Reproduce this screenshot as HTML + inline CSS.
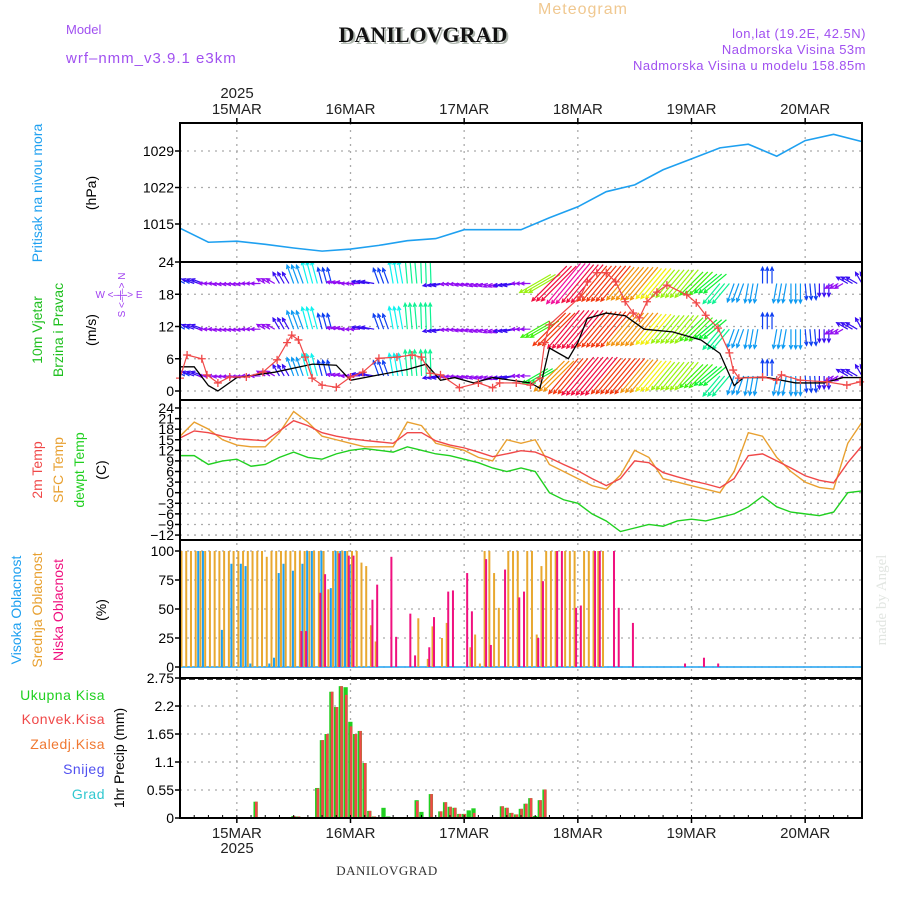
<!DOCTYPE html>
<html><head><meta charset="utf-8"><title>Meteogram DANILOVGRAD</title>
<style>
html,body{margin:0;padding:0;background:#fff;}
svg{display:block;font-family:"Liberation Sans",sans-serif;}
</style></head>
<body>
<svg id="chart" width="900" height="900" viewBox="0 0 900 900" xmlns="http://www.w3.org/2000/svg">
<defs>
<clipPath id="clipW"><rect x="180" y="262" width="682" height="138"/></clipPath>
</defs>
<text x="583" y="14" font-size="16" fill="#f0c890" text-anchor="middle" letter-spacing="1">Meteogram</text>
<text x="66" y="34" font-size="13" fill="#a050f0">Model</text>
<text x="66" y="63" font-size="15" fill="#a050f0" letter-spacing="1">wrf–nmm_v3.9.1 e3km</text>
<text x="425" y="44" font-size="22" font-weight="bold" fill="#b0b8b0" text-anchor="middle" font-family="Liberation Serif, serif">DANILOVGRAD</text>
<text x="423" y="42" font-size="22" font-weight="bold" fill="#111" text-anchor="middle" font-family="Liberation Serif, serif">DANILOVGRAD</text>
<text x="866" y="38" font-size="13" fill="#a050f0" text-anchor="end" letter-spacing="0.5">lon,lat (19.2E, 42.5N)</text>
<text x="866" y="54" font-size="13" fill="#a050f0" text-anchor="end" letter-spacing="0.5">Nadmorska Visina 53m</text>
<text x="866" y="70" font-size="13" fill="#a050f0" text-anchor="end" letter-spacing="0.5">Nadmorska Visina u modelu 158.85m</text>
<text transform="translate(42,193) rotate(-90)" font-size="14" fill="#1ea0f0" text-anchor="middle">Pritisak na nivou mora</text>
<text transform="translate(96,193) rotate(-90)" font-size="14" fill="#000" text-anchor="middle">(hPa)</text>
<text transform="translate(42,330) rotate(-90)" font-size="14" fill="#20c020" text-anchor="middle">10m Vjetar</text>
<text transform="translate(63,330) rotate(-90)" font-size="14" fill="#20c020" text-anchor="middle">Brzina i Pravac</text>
<text transform="translate(96,330) rotate(-90)" font-size="14" fill="#000" text-anchor="middle">(m/s)</text>
<text x="119" y="298" font-size="10" fill="#a040f0" text-anchor="middle">W  &lt;–|–&gt;  E</text>
<text transform="translate(125,295) rotate(-90)" font-size="10" fill="#a040f0" text-anchor="middle">S &lt;–|–&gt; N</text>
<text transform="translate(42,470) rotate(-90)" font-size="14" fill="#f04848" text-anchor="middle">2m Temp</text>
<text transform="translate(63,470) rotate(-90)" font-size="14" fill="#e8a030" text-anchor="middle">SFC Temp</text>
<text transform="translate(84,470) rotate(-90)" font-size="14" fill="#20d020" text-anchor="middle">dewpt Temp</text>
<text transform="translate(106,470) rotate(-90)" font-size="14" fill="#000" text-anchor="middle">(C)</text>
<text transform="translate(21,610) rotate(-90)" font-size="14" fill="#1ea0f0" text-anchor="middle">Visoka Oblacnost</text>
<text transform="translate(42,610) rotate(-90)" font-size="14" fill="#e8a030" text-anchor="middle">Srednja Oblacnost</text>
<text transform="translate(63,610) rotate(-90)" font-size="14" fill="#f0107f" text-anchor="middle">Niska Oblacnost</text>
<text transform="translate(106,610) rotate(-90)" font-size="14" fill="#000" text-anchor="middle">(%)</text>
<text x="105" y="700" font-size="14" fill="#20d020" text-anchor="end" letter-spacing="0.5">Ukupna  Kisa</text>
<text x="105" y="724" font-size="14" fill="#f04848" text-anchor="end" letter-spacing="0.5">Konvek.Kisa</text>
<text x="105" y="749" font-size="14" fill="#f07830" text-anchor="end" letter-spacing="0.5">Zaledj.Kisa</text>
<text x="105" y="774" font-size="14" fill="#5050f0" text-anchor="end" letter-spacing="0.5">Snijeg</text>
<text x="105" y="799" font-size="14" fill="#30c8d0" text-anchor="end" letter-spacing="0.5">Grad</text>
<text transform="translate(124,758) rotate(-90)" font-size="14" fill="#000" text-anchor="middle">1hr Precip (mm)</text>
<text transform="translate(886,600) rotate(-90)" font-size="15" fill="#e2e6e2" text-anchor="middle" font-family="Liberation Serif, serif">made by Angel</text>
<text x="387" y="875" font-size="13" fill="#333" text-anchor="middle" font-family="Liberation Serif, serif" letter-spacing="0.5">DANILOVGRAD</text>
<text x="237" y="98" font-size="15" fill="#222" text-anchor="middle">2025</text>
<text x="237" y="853" font-size="15" fill="#222" text-anchor="middle">2025</text>
<g id="layer"></g>
</svg>
<script>
const dayLabels = ["15MAR","16MAR","17MAR","18MAR","19MAR","20MAR"];
const dayHours = [12,36,60,84,108,132];
const pressureStepH = 6;
const pressureVals = [1014.2,1011.5,1011.7,1011.1,1010.4,1009.8,1010.2,1010.9,1011.8,1012.2,1013.9,1013.9,1013.9,1016.2,1018.3,1021.2,1022.5,1025.4,1027.5,1029.6,1030.3,1028.0,1031.0,1032.2,1030.8];
const pressureTicks = [1015,1022,1029];
const windTicks = [0,6,12,18,24];
const windStepH = 3;
const windDir = [120,110,90,85,85,90,120,150,160,165,165,100,90,100,160,170,175,178,80,85,80,75,70,80,90,60,45,40,40,40,40,40,40,40,40,40,45,50,40,20,10,180,10,0,355,0,60,120,150];
const windLow = [4,3,2,2,2,2,2,3,5,6,4,2,2,3,4,6,7,7,3,2,2,2,2,3,2,8,12,13,14,14,13,13,12,11,10,10,9,8,7,5,5,4,5,5,4,3,2,3,3];
const windMid = [4,3,2,2,2,2,2,3,5,6,4,2,2,3,4,6,7,7,3,2,2,2,2,3,2,9,13,14,14,13,13,12,12,11,10,10,9,8,7,5,5,4,5,5,4,3,2,3,3];
const windTop = [4,3,2,2,2,2,2,3,5,6,4,2,2,3,4,6,7,7,3,2,2,2,2,3,2,10,14,15,14,13,13,12,12,11,10,10,9,8,7,5,5,4,5,5,4,3,2,3,3];
const windLevels = [2.8,11.5,20];
const speedHours = [0,1.5,4.6,5.7,8,10.5,14,17.5,20.5,22.6,23.6,25,26.4,27.9,30,33,36,38.6,42,45.8,49,51,52.8,55,59,63,66,67.5,71,74,76,77,78,84.5,86,88,90,92,94,95.7,97,98.6,100.7,102.8,107,109,111,113.6,116,116.8,118,123,126,127,131,136.6,140.8,143.6];
const speedVals = [2.4,6.7,6,3,1.5,2.6,2.6,3.5,5.8,9,10.4,9.5,6.3,2.4,1.1,0.7,2.6,3.5,6.1,6.3,6.7,6.3,3.3,3,0.6,1.5,0.6,1.5,1.5,1.1,2.4,9,12.3,17.5,20.3,22,22,20.3,16.6,14.5,13.6,16.6,18.4,19.7,17.9,16.4,14.1,11.7,7.1,3.9,2.4,2.6,2,3,2,1.7,1.1,1.7];
const meanHours = [0,3,6,8,12,20,28,33,36,42,48,52,55,58,62,66,70,74,76,78,80,82,84,86,90,94,98,104,110,114,116,117,119,124,130,136,140,144];
const meanVals = [4.5,4.5,1,0,2.5,3.5,5,4.8,2,3,4,5,2,2.5,1.5,2.5,2,1.5,0.5,8,7,6,9,13.5,14.5,14,11.5,11,9.5,7,3,1,2.5,2.5,1.5,1.5,2.5,2.5];
const tempTicks = [24,21,18,15,12,9,6,3,0,-3,-6,-9,-12];
const tempStepH = 3;
const temp2m = [15.5,17.5,17,16,15.3,15,14.7,17.5,20.4,19,17,16,15.3,14.8,14.4,14,17,17,14.7,13.5,12.7,11.5,10.2,11,11.9,11.5,9.9,8,6.2,4,2,4,9,8.5,5.7,4.5,3.4,2.5,1.4,4,10.5,11,9,7,4.8,3.5,2.8,8.5,13.3];
const tempSfc = [16,20,18,15,13.5,13,13,17,23,20,16,15,14,13,13,13,20,19,14,13,12,10,9,15,14,15,8,6,4,2,1,5,12,10,4,3,2,1,0,6,17,16,10,6,3,1.5,1,14,20];
const tempDew = [10.5,10.5,8,9,9.5,7.5,8,10,11.5,10,9.5,11,12,12.5,12,11.5,13,12,11,10.5,9.5,8.5,7,6,7,6,0,-2,-3,-6,-8,-11,-10,-9,-9.5,-8,-7.5,-8,-7,-6,-4,-1,-4,-5.5,-6,-6.5,-5.5,0,0.5];
const cloudTicks = [0,25,50,75,100];
const midHours = [0,1,2,3,4,5,6,7,8,9,10,11,12,13,14,15,16,17,18,19,20,21,22,23,24,25,26,27,28,29,30,31,32,33,34,35,36,37,38,39,40,41,50,52,53,55,56,61,62,63,64,65,66,67,69,70,71,73,74,75,76,77,78,79,81,82,83,85,86,87,88,89];
const midVals = [100,100,100,100,100,100,100,100,100,100,100,100,100,100,100,100,100,100,95,100,100,100,100,100,100,100,100,100,100,100,100,67,100,100,100,100,100,100,90,87,36,22,42,7,35,25,38,17,28,3,100,100,81,51,100,100,100,100,100,28,87,100,100,100,100,100,100,100,100,100,100,100];
const highHours = [3,4,8,10,12,13,14,18,19,20,21,23,25,26,27,29,31,32,33,34,35];
const highVals = [100,100,32,89,89,87,3,3,8,81,89,83,89,100,100,100,68,100,100,100,88];
const lowHours = [25,26,29,30,33,35,36,40,41,44,45,48,49,52,53,56,57,60,61,64,65,68,71,72,75,76,79,80,83,84,87,88,91,92,95,106,110,113];
const lowVals = [31,31,64,80,98,96,96,58,71,95,26,46,10,17,43,65,66,81,48,93,19,84,60,65,25,74,100,100,51,53,100,100,100,51,38,3,8,3];
const precipTicks = [0,0.55,1.1,1.65,2.2,2.75];
const rainHours = [16,24,25,29,30,31,32,33,34,35,36,37,38,39,40,41,43,44,50,51,53,55,56,57,58,59,60,61,62,68,69,70,71,72,73,74,75,76,77];
const rainTotal = [0.32,0.04,0.03,0.59,1.53,1.65,2.48,2.18,2.59,2.57,1.89,1.65,1.71,1.08,0.14,0.03,0.2,0.03,0.35,0.12,0.47,0.13,0.31,0.22,0.2,0.08,0.08,0.15,0.19,0.23,0.2,0.1,0.07,0.18,0.28,0.39,0.04,0.35,0.56];
const rainConv = [0.32,0.04,0.03,0.58,1.53,1.65,2.48,2.18,2.59,2.42,1.8,1.65,1.71,1.08,0.14,0.03,0,0,0.33,0,0.47,0.13,0.31,0.22,0.2,0.08,0.08,0.02,0.1,0.23,0.2,0.1,0.07,0.18,0.28,0.39,0,0.35,0.56];

const X0=180, X1=862, HOURS=144;
const xT = h => X0 + h*(X1-X0)/HOURS;
const yP = v => 224 - (v-1015)*36.5/7;
const yW = v => 391 - v*5.375;
const yT = v => 492.7 - v*3.53;
const yC = v => 667 - v*1.16;
const yR = v => 818 - v*50.9;
const panels = [[123,262],[262,400],[400,540],[540,678],[678,818]];
const NS="http://www.w3.org/2000/svg";
const layer=document.getElementById('layer');
function mk(tag, attrs, parent){const e=document.createElementNS(NS,tag);for(const k in attrs)e.setAttribute(k,attrs[k]);(parent||layer).appendChild(e);return e;}
let el;

const grid=mk('g',{stroke:'#aaa','stroke-width':1.3,'stroke-dasharray':'2,5'});


dayHours.forEach(h=>{
  el=mk('line',{x1:xT(h),x2:xT(h),y1:123,y2:818},grid);
  
  
});
function hgrid(ticks,yf,fmt,name){
  ticks.forEach(v=>{
    el=mk('line',{x1:X0,x2:X1,y1:yf(v),y2:yf(v)},grid);
    
    
    el=mk('text',{x:174,y:yf(v)+5,'font-size':14,'text-anchor':'end',fill:'#000'});
    el.textContent=fmt(v);
    
    
    el=mk('line',{x1:X0-5,x2:X0,y1:yf(v),y2:yf(v),stroke:'#000','stroke-width':1.5});
    
    
  });
}
hgrid(pressureTicks,yP,v=>v,'pressure');
hgrid(windTicks,yW,v=>v,'wind');
hgrid(tempTicks,yT,v=>v<0?'−'+(-v):v,'temp');
hgrid(cloudTicks,yC,v=>v,'cloud');
hgrid(precipTicks,yR,v=>v,'precip');

el=mk('polyline',{fill:'none',stroke:'#1ea0f0','stroke-width':1.6,points:pressureVals.map((v,i)=>xT(i*pressureStepH)+','+yP(v)).join(' ')});



function windColor(s){let h=275-(s-2)*24;if(s<2)h=275;if(h<0)h+=360;return 'hsl('+h+',90%,50%)';}
const wg=mk('g',{'clip-path':'url(#clipW)','stroke-width':1.2,fill:'none'});


[windLow,windMid,windTop].forEach((sp,r)=>{
  sp.forEach((s,i)=>{
    const d=windDir[i]*Math.PI/180, len=3+s*3.3;
    const dx=-Math.sin(d)*len, dy=Math.cos(d)*len;
    const col=windColor(s);
    const shift = s>=8 ? 0.5 : 0;
    for(let k=0;k<3;k++){
      const x0=xT(i*windStepH+k)-dx*shift, y0=yW(windLevels[r])-dy*shift;
      const x1=x0+dx, y1=y0+dy;
      const a=Math.atan2(dy,dx);
      const p=`M${x0},${y0}L${x1},${y1}M${x1-4*Math.cos(a-0.45)},${y1-4*Math.sin(a-0.45)}L${x1},${y1}L${x1-4*Math.cos(a+0.45)},${y1-4*Math.sin(a+0.45)}`;
      el=mk('path',{d:p,stroke:col},wg);
      
      
    }
  });
});
el=mk('polyline',{fill:'none',stroke:'#000','stroke-width':1.3,'clip-path':'url(#clipW)',points:meanHours.map((h,i)=>xT(h)+','+yW(meanVals[i])).join(' ')});


el=mk('polyline',{fill:'none',stroke:'#f04848','stroke-width':1.2,'clip-path':'url(#clipW)',points:speedHours.map((h,i)=>xT(h)+','+yW(speedVals[i])).join(' ')});


speedHours.forEach((h,i)=>{
  const x=xT(h),y=yW(speedVals[i]);
  el=mk('path',{d:`M${x-4},${y}H${x+4}M${x},${y-4}V${y+4}`,stroke:'#f04848','stroke-width':1.3});
  
  
});

[[tempSfc,'#e8a030','sfc-temp-line'],[temp2m,'#f04848','temp-2m-line'],[tempDew,'#20d020','dewpoint-line']].forEach(([arr,c,n])=>{
  el=mk('polyline',{fill:'none',stroke:c,'stroke-width':1.4,points:arr.map((v,i)=>xT(i*tempStepH)+','+yT(v)).join(' ')});
  
  
});

el=mk('line',{x1:X0,x2:X1,y1:yC(0),y2:yC(0),stroke:'#1ea0f0','stroke-width':1.5});


[[midHours,midVals,'#e8a830',0.5,'mid-cloud-bar'],[highHours,highVals,'#1ea0f0',3,'high-cloud-bar'],[lowHours,lowVals,'#f0107f',2,'low-cloud-bar']].forEach(([hs,vs,c,off,n])=>{
  hs.forEach((h,i)=>{
    if(vs[i]<=0)return;
    el=mk('rect',{x:xT(h)+off,y:yC(vs[i]),width:2,height:yC(0)-yC(vs[i]),fill:c});
    
    
  });
});

rainHours.forEach((h,i)=>{
  if(rainTotal[i]>0){
    el=mk('rect',{x:xT(h)-2.3,y:yR(rainTotal[i]),width:4.3,height:818-yR(rainTotal[i]),fill:'#20d020'});
    
    
  }
  if(rainConv[i]>0){
    el=mk('rect',{x:xT(h)-0.8,y:yR(rainConv[i]),width:2.6,height:818-yR(rainConv[i]),fill:'#f04848'});
    
    
  }
});
el=mk('line',{x1:X0,x2:X1,y1:679,y2:679,stroke:'#000','stroke-width':1.5,'stroke-dasharray':'6,3'});



panels.forEach(p=>{
  el=mk('rect',{x:X0,y:p[0],width:X1-X0,height:p[1]-p[0],fill:'none',stroke:'#000','stroke-width':2});
  
  
});

for(let h=0;h<=HOURS;h+=3){
  el=mk('line',{x1:xT(h),x2:xT(h),y1:818,y2:815,stroke:'#000','stroke-width':1});
  
  
}
dayHours.forEach((h,i)=>{
  el=mk('line',{x1:xT(h),x2:xT(h),y1:118,y2:123,stroke:'#000','stroke-width':1.5});
  
  
  el=mk('line',{x1:xT(h),x2:xT(h),y1:818,y2:823,stroke:'#000','stroke-width':1.5});
  
  
  el=mk('text',{x:xT(h),y:114,'font-size':15,'text-anchor':'middle',fill:'#222'});
  el.textContent=dayLabels[i];
  
  
  el=mk('text',{x:xT(h),y:838,'font-size':15,'text-anchor':'middle',fill:'#222'});
  el.textContent=dayLabels[i];
  
  
});
</script>
</body></html>
